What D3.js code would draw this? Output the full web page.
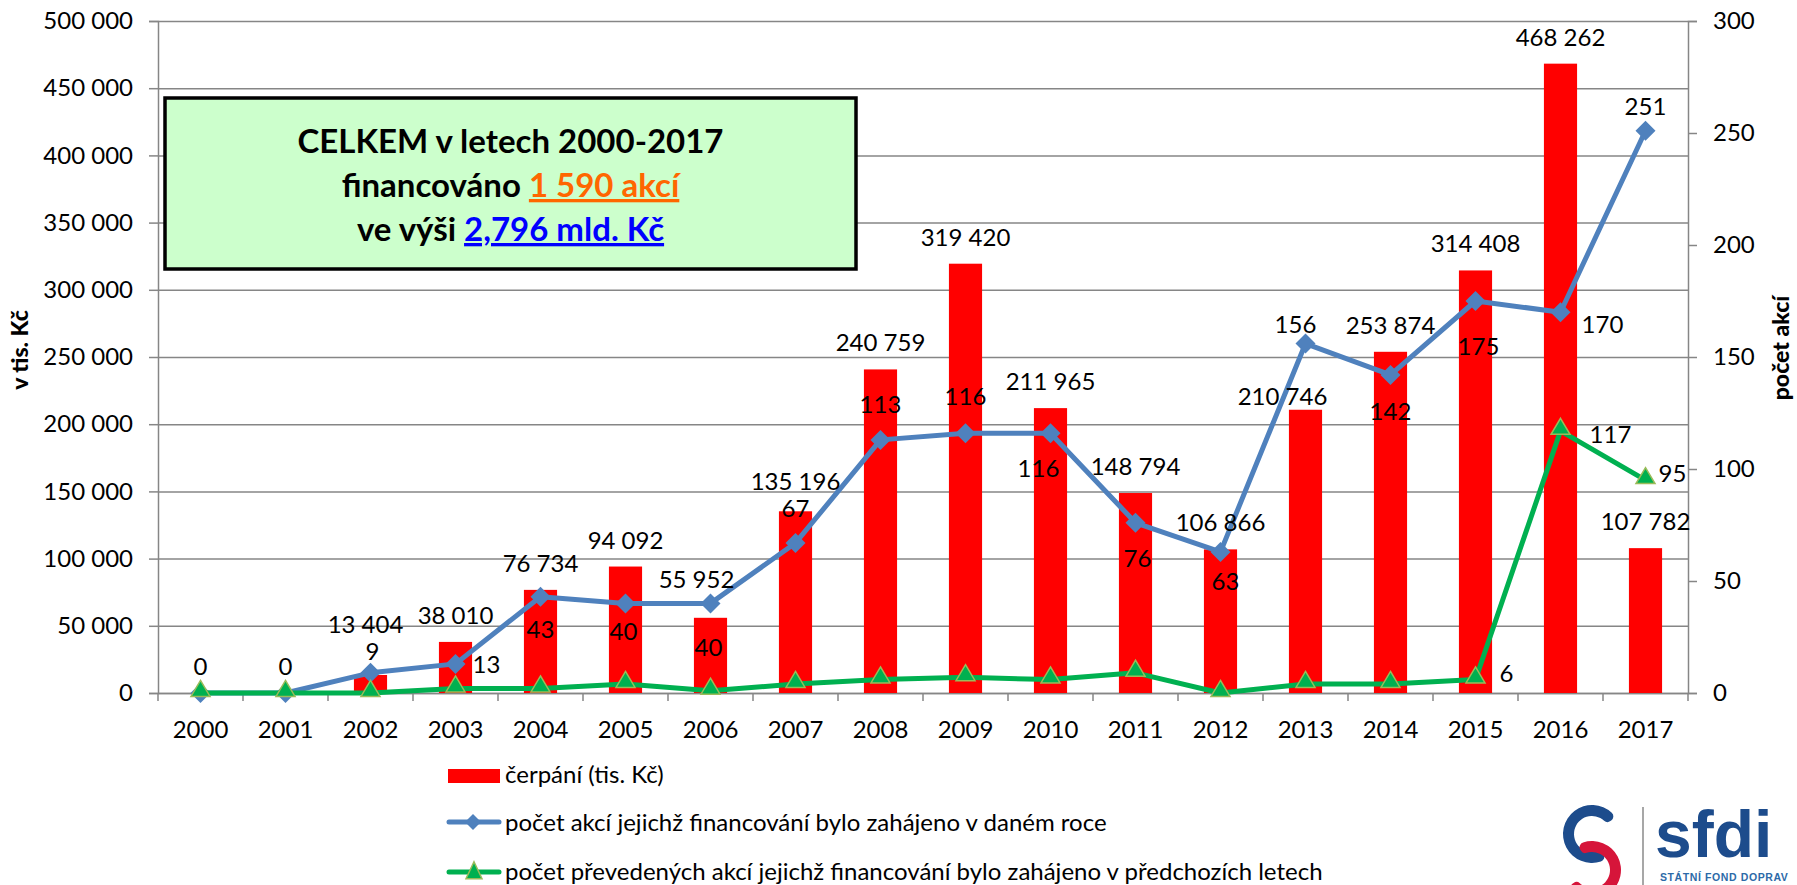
<!DOCTYPE html>
<html>
<head>
<meta charset="utf-8">
<script src="https://cdn.jsdelivr.net/npm/d3@7"></script>
<style>
    body { margin: 0; background: #fff; }
    text { font-family: Lato, "Open Sans", sans-serif; fill: #000; }
</style>
</head>
<body>
<div id="chart"></div>
<script>
// data
const years = ["2000", "2001", "2002", "2003", "2004", "2005", "2006", "2007", "2008",
    "2009", "2010", "2011", "2012", "2013", "2014", "2015", "2016", "2017"];
const cerpani = [0, 0, 13404, 38010, 76734, 94092, 55952, 135196, 240759,
    319420, 211965, 148794, 106866, 210746, 253874, 314408, 468262, 107782];
const zahajeno = [0, 0, 9, 13, 43, 40, 40, 67, 113, 116, 116, 76, 63, 156, 142, 175, 170, 251];
const prevedeno = [0, 0, 0, 2, 2, 4, 1, 4, 6, 7, 6, 9, 0, 4, 4, 6, 117, 95];
const leftTicks = [0, 50000, 100000, 150000, 200000, 250000, 300000, 350000, 400000, 450000, 500000];
const rightTicks = [0, 50, 100, 150, 200, 250, 300];
const legendNames = [
    "čerpání (tis. Kč)",
    "počet akcí jejichž financování bylo zahájeno v daném roce",
    "počet převedených akcí jejichž financování bylo zahájeno v předchozích letech"
];

// label nudges [dx, dy] relative to the mark (null = no label)
const barLabelShift = [[0, -18], [0, -18], [-5, -42], [0, -18], [0, -18], [0, -18], [-14, -30], [0, -21], [0, -18],
    [0, -18], [0, -18], [0, -18], [0, -18], [-23, -5], [0, -18], [0, -18], [0, -18], [0, -18]];
const blueLabelShift = [null, null, [2, -13], [31, 9], [0, 41], [-2, 37], [-2, 53], [0, -26], [0, -27],
    [0, -28], [-12, 44], [2, 44], [5, 38], [-10, -11], [0, 45], [3, 54], [42, 21], [0, -16]];
const greenLabelShift = [null, null, null, null, null, null, null, null, null,
    null, null, null, null, null, null, [31, 2], [50, 12], [27, 2]];

const width = 1797;
const height = 885;
const plotL = 158, plotR = 1688, plotT = 21, plotB = 693;
const grey = "#868686";

const svg = d3.select("#chart")
    .append("svg")
    .attr("width", width)
    .attr("height", height);

const fmt = function (v) { return d3.format(",")(v).replace(/,/g, " "); };

const xScale = d3.scaleBand().domain(years).range([plotL, plotR]);
const yLeft = d3.scaleLinear().domain([0, 500000]).range([plotB, plotT]);
const yRight = d3.scaleLinear().domain([0, 300]).range([plotB, plotT]);
const bw = xScale.bandwidth();
const barW = bw * 0.39;

// gridlines
svg.append("g")
    .attr("transform", `translate(${plotL}, 0)`)
    .call(d3.axisLeft(yLeft).tickValues(leftTicks).tickSize(-(plotR - plotL)).tickFormat(""))
    .call(g => g.select(".domain").remove())
    .call(g => g.selectAll("line").attr("stroke", grey).attr("stroke-width", 1.5));

// left axis
svg.append("g")
    .attr("transform", `translate(${plotL}, 0)`)
    .call(d3.axisLeft(yLeft).tickValues(leftTicks).tickSize(9).tickPadding(16).tickFormat(fmt))
    .call(g => g.select(".domain").attr("stroke", grey).attr("stroke-width", 1.5))
    .call(g => g.selectAll("line").attr("stroke", grey).attr("stroke-width", 1.5))
    .call(g => g.selectAll("text").attr("font-size", "24px").attr("font-family", "Lato").attr("fill", "#000"));

// right axis
svg.append("g")
    .attr("transform", `translate(${plotR}, 0)`)
    .call(d3.axisRight(yRight).tickValues(rightTicks).tickSize(9).tickPadding(16))
    .call(g => g.select(".domain").attr("stroke", grey).attr("stroke-width", 1.5))
    .call(g => g.selectAll("line").attr("stroke", grey).attr("stroke-width", 1.5))
    .call(g => g.selectAll("text").attr("font-size", "24px").attr("font-family", "Lato").attr("fill", "#000"));

// x axis
svg.append("g")
    .attr("transform", `translate(0, ${plotB})`)
    .call(d3.axisBottom(xScale).tickSize(0).tickPadding(28))
    .call(g => g.select(".domain").attr("stroke", grey).attr("stroke-width", 1.5))
    .call(g => g.selectAll("text").attr("font-size", "24px").attr("font-family", "Lato").attr("fill", "#000"));

const edges = years.map(d => xScale(d)).concat([plotR]);
svg.append("g").selectAll("line")
    .data(edges)
    .enter().append("line")
    .attr("x1", d => d).attr("x2", d => d)
    .attr("y1", plotB).attr("y2", plotB + 8)
    .attr("stroke", grey).attr("stroke-width", 1.5);

// axis titles
svg.append("text")
    .attr("transform", "translate(28, 350) rotate(-90)")
    .attr("text-anchor", "middle")
    .attr("font-size", "23px")
    .attr("font-weight", 900)
    .text("v tis. Kč");

svg.append("text")
    .attr("transform", "translate(1789, 348) rotate(-90)")
    .attr("text-anchor", "middle")
    .attr("font-size", "23px")
    .attr("font-weight", 900)
    .text("počet akcí");

// bars
svg.append("g").selectAll("rect")
    .data(cerpani)
    .enter().append("rect")
    .attr("x", (d, i) => xScale(years[i]) + (bw - barW) / 2)
    .attr("y", d => yLeft(d))
    .attr("width", barW)
    .attr("height", d => plotB - yLeft(d))
    .attr("fill", "#ff0000");

// blue line
const cx = i => xScale(years[i]) + bw / 2;
const countLine = d3.line().x((d, i) => cx(i)).y(d => yRight(d));
svg.append("path")
    .attr("d", countLine(zahajeno))
    .attr("fill", "none")
    .attr("stroke", "#4f81bd")
    .attr("stroke-width", 5)
    .attr("stroke-linejoin", "round");

const diamond = r => `M0,${-r}L${r},0L0,${r}L${-r},0Z`;
const triangle = (w, h) => `M0,${-h * 0.6}L${w / 2},${h * 0.4}L${-w / 2},${h * 0.4}Z`;

svg.append("g").selectAll("path")
    .data(zahajeno)
    .enter().append("path")
    .attr("d", diamond(10))
    .attr("transform", (d, i) => `translate(${cx(i)}, ${yRight(d)})`)
    .attr("fill", "#4f81bd");

// green line
svg.append("path")
    .attr("d", countLine(prevedeno))
    .attr("fill", "none")
    .attr("stroke", "#00b050")
    .attr("stroke-width", 5)
    .attr("stroke-linejoin", "round");

svg.append("g").selectAll("path")
    .data(prevedeno)
    .enter().append("path")
    .attr("d", triangle(19, 16))
    .attr("transform", (d, i) => `translate(${cx(i)}, ${yRight(d) - 3})`)
    .attr("fill", "#00b050")
    .attr("stroke", "#9bbb59")
    .attr("stroke-width", 1.5);

// data labels
function addLabels(values, scale, shifts, fmtFn) {
    values.forEach(function (v, i) {
        if (!shifts[i]) return;
        svg.append("text")
            .attr("x", cx(i) + shifts[i][0])
            .attr("y", scale(v) + shifts[i][1])
            .attr("text-anchor", "middle")
            .attr("font-size", "24px")
            .text(fmtFn(v));
    });
}
addLabels(cerpani, yLeft, barLabelShift, fmt);
addLabels(zahajeno, yRight, blueLabelShift, String);
addLabels(prevedeno, yRight, greenLabelShift, String);

// summary box
svg.append("rect")
    .attr("x", 165).attr("y", 98)
    .attr("width", 691).attr("height", 171)
    .attr("fill", "#ccffcc")
    .attr("stroke", "#000")
    .attr("stroke-width", 3.5);

const box = svg.append("text")
    .attr("x", 510.5)
    .attr("text-anchor", "middle")
    .attr("font-size", "33px")
    .attr("font-weight", "bold");
box.append("tspan").attr("x", 510.5).attr("y", 153).text("CELKEM v letech 2000-2017");
const l2 = box.append("tspan").attr("x", 510.5).attr("y", 197);
l2.append("tspan").text("financováno ");
l2.append("tspan").style("fill", "#ff6600").attr("text-decoration", "underline").text("1 590 akcí");
const l3 = box.append("tspan").attr("x", 510.5).attr("y", 241);
l3.append("tspan").text("ve výši ");
l3.append("tspan").style("fill", "#0000ff").attr("text-decoration", "underline").text("2,796 mld. Kč");

// legend
const lg = svg.append("g");
lg.append("rect").attr("x", 448).attr("y", 769).attr("width", 52).attr("height", 14).attr("fill", "#ff0000");
lg.append("line").attr("x1", 449).attr("x2", 499).attr("y1", 822).attr("y2", 822)
    .attr("stroke", "#4f81bd").attr("stroke-width", 5).attr("stroke-linecap", "round");
lg.append("path").attr("d", diamond(8)).attr("transform", "translate(473, 822)").attr("fill", "#4f81bd");
lg.append("line").attr("x1", 449).attr("x2", 499).attr("y1", 872).attr("y2", 872)
    .attr("stroke", "#00b050").attr("stroke-width", 5).attr("stroke-linecap", "round");
lg.append("path").attr("d", triangle(16, 17)).attr("transform", "translate(474, 872)")
    .attr("fill", "#00b050").attr("stroke", "#9bbb59").attr("stroke-width", 1.5);
[783, 831, 880].forEach(function (y, i) {
    lg.append("text").attr("x", 505).attr("y", y).attr("font-size", "24px").text(legendNames[i]);
});

// sfdi logo
const logo = svg.append("g");
logo.append("path")
    .attr("d", d3.arc().innerRadius(18).outerRadius(29).startAngle(-210 * Math.PI / 180).endAngle(55 * Math.PI / 180).cornerRadius(5)())
    .attr("transform", "translate(1592, 834)")
    .attr("fill", "#1d4c8c");
logo.append("path")
    .attr("d", d3.arc().innerRadius(18).outerRadius(29).startAngle(-30 * Math.PI / 180).endAngle(235 * Math.PI / 180).cornerRadius(5)())
    .attr("transform", "translate(1592, 870)")
    .attr("fill", "#d6153a");
logo.append("line").attr("x1", 1643).attr("x2", 1643).attr("y1", 807).attr("y2", 885)
    .attr("stroke", "#8a8a8a").attr("stroke-width", 1.5);
logo.append("text").attr("x", 1655).attr("y", 857)
    .style("font-family", "'Liberation Sans', Arial, sans-serif")
    .style("fill", "#1d4c8c")
    .attr("font-size", "66px").attr("font-weight", "bold")
    .text("sfdi");
logo.append("text").attr("x", 1660).attr("y", 881)
    .style("font-family", "'Liberation Sans', Arial, sans-serif")
    .style("fill", "#2c6aa8")
    .attr("font-size", "10.5px").attr("font-weight", "bold").attr("letter-spacing", 0.6)
    .text("STÁTNÍ FOND DOPRAV");
</script>
</body>
</html>
